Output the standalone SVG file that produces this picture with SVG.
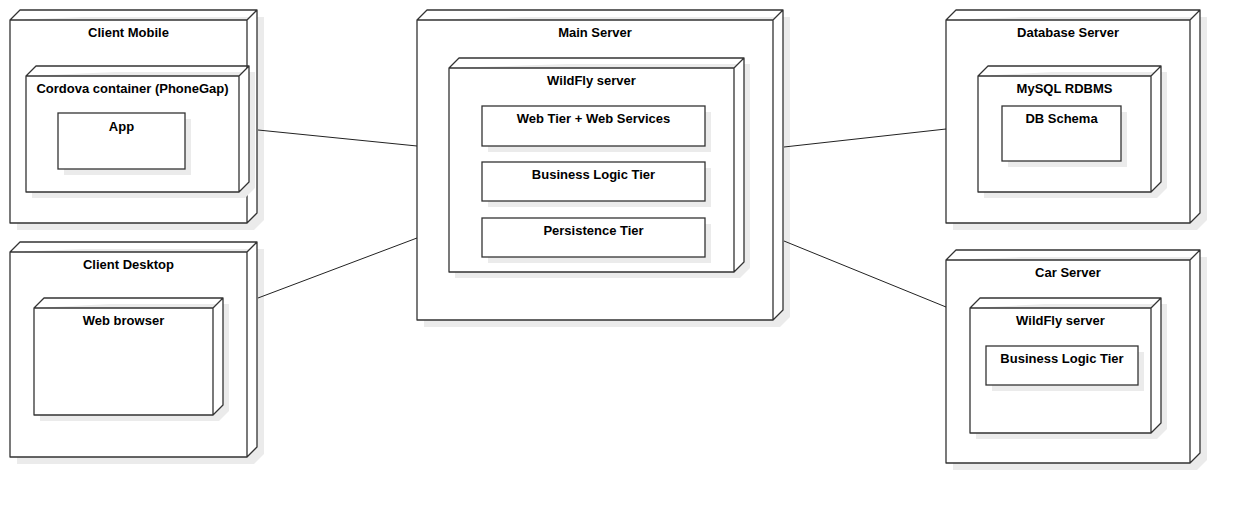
<svg xmlns="http://www.w3.org/2000/svg" width="1242" height="506" viewBox="0 0 1242 506">
<style>
.sh{fill:#ebebeb;stroke:none}
.nd{fill:#fff;stroke:#333;stroke-width:1.3;stroke-linejoin:round}
.bx{fill:#fff;stroke:#333;stroke-width:1.3}
.t{font-family:"Liberation Sans",Arial,sans-serif;font-size:13px;font-weight:bold;fill:#000;text-anchor:middle}
.cn{stroke:#222;stroke-width:1;fill:none}
</style>
<rect width="1242" height="506" fill="#fff"/>
<g id="client-mobile">
<path class="sh" d="M17 27 L27 17 L264 17 L264 220 L254 230 L17 230 Z"/>
<path class="nd" d="M10 20 L20 10 L257 10 L257 213 L247 223 L10 223 Z M10 20 L247 20 L257 10 M247 20 L247 223"/>
<text class="t" x="128.5" y="37">Client Mobile</text>
<g id="cordova">
<path class="sh" d="M32 82 L42 72 L255 72 L255 188 L245 198 L32 198 Z"/>
<path class="nd" d="M26 76 L36 66 L249 66 L249 182 L239 192 L26 192 Z M26 76 L239 76 L249 66 M239 76 L239 192"/>
<text class="t" x="132.5" y="93">Cordova container (PhoneGap)</text>
<g id="app">
<rect class="sh" x="64" y="119" width="127" height="56"/>
<rect class="bx" x="58" y="113" width="127" height="56"/>
<text class="t" x="121.5" y="131">App</text>
</g>
</g>
</g>
<g id="client-desktop">
<path class="sh" d="M17 259 L27 249 L264 249 L264 454 L254 464 L17 464 Z"/>
<path class="nd" d="M10 252 L20 242 L257 242 L257 447 L247 457 L10 457 Z M10 252 L247 252 L257 242 M247 252 L247 457"/>
<text class="t" x="128.5" y="269">Client Desktop</text>
<g id="web-browser">
<path class="sh" d="M40 314 L50 304 L229 304 L229 411 L219 421 L40 421 Z"/>
<path class="nd" d="M34 308 L44 298 L223 298 L223 405 L213 415 L34 415 Z M34 308 L213 308 L223 298 M213 308 L213 415"/>
<text class="t" x="123.5" y="325">Web browser</text>
</g>
</g>
<g id="main-server">
<path class="sh" d="M424 27 L434 17 L790 17 L790 317 L780 327 L424 327 Z"/>
<path class="nd" d="M417 20 L427 10 L783 10 L783 310 L773 320 L417 320 Z M417 20 L773 20 L783 10 M773 20 L773 320"/>
<text class="t" x="595" y="37">Main Server</text>
<g id="wildfly-main">
<path class="sh" d="M455 74 L465 64 L750 64 L750 268 L740 278 L455 278 Z"/>
<path class="nd" d="M449 68 L459 58 L744 58 L744 262 L734 272 L449 272 Z M449 68 L734 68 L744 58 M734 68 L734 272"/>
<text class="t" x="591.5" y="85">WildFly server</text>
<g id="web-tier">
<rect class="sh" x="488" y="112" width="223" height="40"/>
<rect class="bx" x="482" y="106" width="223" height="40"/>
<text class="t" x="593.5" y="123">Web Tier + Web Services</text>
</g>
<g id="business-tier">
<rect class="sh" x="488" y="168" width="223" height="39"/>
<rect class="bx" x="482" y="162" width="223" height="39"/>
<text class="t" x="593.5" y="179">Business Logic Tier</text>
</g>
<g id="persistence-tier">
<rect class="sh" x="488" y="224" width="223" height="39"/>
<rect class="bx" x="482" y="218" width="223" height="39"/>
<text class="t" x="593.5" y="235">Persistence Tier</text>
</g>
</g>
</g>
<g id="database-server">
<path class="sh" d="M953 27 L963 17 L1207 17 L1207 220 L1197 230 L953 230 Z"/>
<path class="nd" d="M946 20 L956 10 L1200 10 L1200 213 L1190 223 L946 223 Z M946 20 L1190 20 L1200 10 M1190 20 L1190 223"/>
<text class="t" x="1068" y="37">Database Server</text>
<g id="mysql">
<path class="sh" d="M984 82 L994 72 L1167 72 L1167 188 L1157 198 L984 198 Z"/>
<path class="nd" d="M978 76 L988 66 L1161 66 L1161 182 L1151 192 L978 192 Z M978 76 L1151 76 L1161 66 M1151 76 L1151 192"/>
<text class="t" x="1064.5" y="93">MySQL RDBMS</text>
<g id="db-schema">
<rect class="sh" x="1008" y="112" width="119" height="55"/>
<rect class="bx" x="1002" y="106" width="119" height="55"/>
<text class="t" x="1061.5" y="123">DB Schema</text>
</g>
</g>
</g>
<g id="car-server">
<path class="sh" d="M953 267 L963 257 L1207 257 L1207 460 L1197 470 L953 470 Z"/>
<path class="nd" d="M946 260 L956 250 L1200 250 L1200 453 L1190 463 L946 463 Z M946 260 L1190 260 L1200 250 M1190 260 L1190 463"/>
<text class="t" x="1068" y="277">Car Server</text>
<g id="wildfly-car">
<path class="sh" d="M976 314 L986 304 L1167 304 L1167 429 L1157 439 L976 439 Z"/>
<path class="nd" d="M970 308 L980 298 L1161 298 L1161 423 L1151 433 L970 433 Z M970 308 L1151 308 L1161 298 M1151 308 L1151 433"/>
<text class="t" x="1060.5" y="325">WildFly server</text>
<g id="business-tier-car">
<rect class="sh" x="992" y="352" width="152" height="39"/>
<rect class="bx" x="986" y="346" width="152" height="39"/>
<text class="t" x="1062" y="363">Business Logic Tier</text>
</g>
</g>
</g>
<g id="connectors">
<line class="cn" x1="258" y1="130" x2="417" y2="146"/>
<line class="cn" x1="258" y1="298" x2="417" y2="238"/>
<line class="cn" x1="784" y1="147" x2="946" y2="129"/>
<line class="cn" x1="784" y1="241" x2="946" y2="307"/>
</g>
</svg>
